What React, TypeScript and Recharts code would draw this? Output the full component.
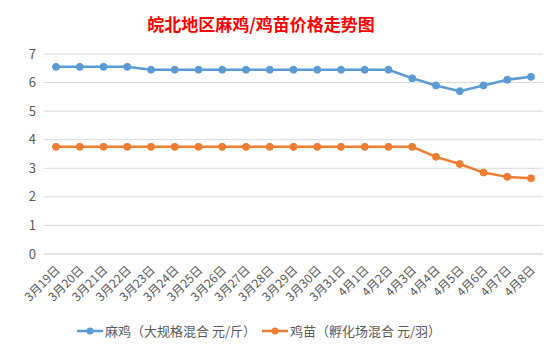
import { LineChart, Line, XAxis, YAxis, CartesianGrid } from "recharts";

const categories = [
  "3月19日", "3月20日", "3月21日", "3月22日", "3月23日", "3月24日", "3月25日",
  "3月26日", "3月27日", "3月28日", "3月29日", "3月30日", "3月31日", "4月1日",
  "4月2日", "4月3日", "4月4日", "4月5日", "4月6日", "4月7日", "4月8日",
];
const majiPrices = [
  6.55, 6.55, 6.55, 6.55, 6.45, 6.45, 6.45, 6.45, 6.45, 6.45, 6.45,
  6.45, 6.45, 6.45, 6.45, 6.15, 5.9, 5.7, 5.9, 6.1, 6.2,
];
const chickPrices = [
  3.75, 3.75, 3.75, 3.75, 3.75, 3.75, 3.75, 3.75, 3.75, 3.75, 3.75,
  3.75, 3.75, 3.75, 3.75, 3.75, 3.4, 3.15, 2.85, 2.7, 2.65,
];
const yTicks = [0, 1, 2, 3, 4, 5, 6, 7];

const series = [
  { key: "maji", name: "麻鸡（大规格混合 元/斤）", color: "#5b9bd5" },
  { key: "chick", name: "鸡苗（孵化场混合 元/羽）", color: "#ed7d31" },
];

const data = categories.map((name, i) => ({
  name,
  maji: majiPrices[i],
  chick: chickPrices[i],
}));

const font = "'Noto Sans CJK SC', 'Noto Sans', sans-serif";

function XTick(props: any) {
  const { x, y, payload } = props;
  return (
    <g transform={`translate(${x + 2},${y + 6})`}>
      <text
        textAnchor="end"
        transform="rotate(-45)"
        fill="#595959"
        fontSize={12}
        fontFamily={font}
        dy={4}
      >
        {payload.value}
      </text>
    </g>
  );
}

export default function App() {
  return (
    <div
      style={{
        position: "absolute",
        left: 0,
        top: 0,
        width: 560,
        height: 354,
        background: "#fff",
        fontFamily: font,
      }}
    >
      <div
        style={{
          position: "absolute",
          top: 11,
          left: 0,
          width: 522,
          textAlign: "center",
          color: "#ff0000",
          fontSize: 17,
          fontWeight: "bold",
        }}
      >
        皖北地区麻鸡/鸡苗价格走势图
      </div>
      <LineChart
        width={560}
        height={354}
        data={data}
        margin={{ top: 54, right: 17, left: 14, bottom: 40 }}
      >
        <CartesianGrid vertical={false} stroke="#d9d9d9" />
        <XAxis
          dataKey="name"
          interval={0}
          tickLine={false}
          axisLine={{ stroke: "#d9d9d9" }}
          padding={{ left: 12, right: 12 }}
          tick={<XTick />}
          height={60}
        />
        <YAxis
          domain={[0, 7]}
          ticks={yTicks}
          interval={0}
          width={30}
          axisLine={false}
          tickLine={false}
          tick={{ fill: "#595959", fontSize: 13, fontFamily: font }}
        />
        {series.map((s) => (
          <Line
            key={s.key}
            dataKey={s.key}
            name={s.name}
            stroke={s.color}
            strokeWidth={2.5}
            dot={{ r: 3.5, fill: s.color, stroke: s.color, strokeWidth: 1 }}
            isAnimationActive={false}
          />
        ))}
      </LineChart>
      <div
        style={{
          position: "absolute",
          top: 321,
          left: 0,
          width: 518,
          display: "flex",
          justifyContent: "center",
          gap: 6,
          fontSize: 13,
          color: "#595959",
        }}
      >
        {series.map((s) => (
          <div key={s.key} style={{ display: "flex", alignItems: "center" }}>
            <svg width={26} height={10} style={{ marginRight: 2 }}>
              <line x1={0} y1={5} x2={26} y2={5} stroke={s.color} strokeWidth={2.5} />
              <circle cx={13} cy={5} r={3.5} fill={s.color} />
            </svg>
            <span>{s.name}</span>
          </div>
        ))}
      </div>
    </div>
  );
}
